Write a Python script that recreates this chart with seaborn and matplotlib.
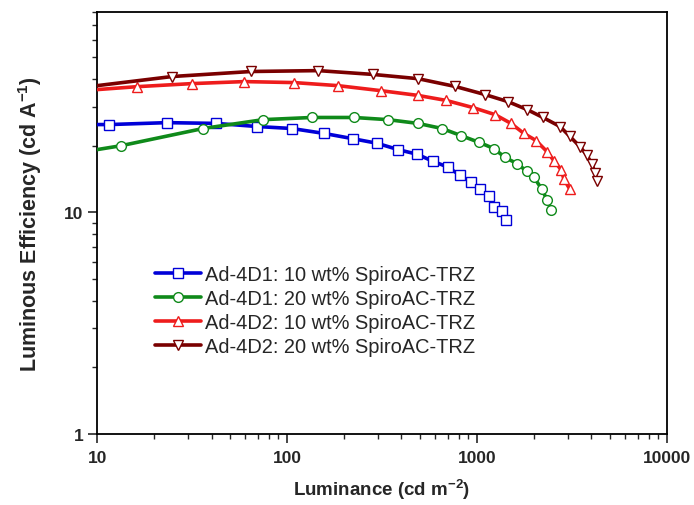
import numpy as np
import pandas as pd
import matplotlib
matplotlib.use("Agg")
import matplotlib.pyplot as plt
import matplotlib.ticker as mticker
import seaborn as sns

# luminance (cd m-2) and luminous efficiency (cd A-1), first point is the line start at the axis
blue_L = [10, 11.6, 23.3, 42.3, 69.5, 106, 157, 222, 298, 384, 483, 587, 703, 814, 930, 1037, 1157, 1229, 1355, 1421]
blue_LE = [24.9, 24.9, 25.4, 25.2, 24.4, 23.9, 22.7, 21.5, 20.5, 19.2, 18.3, 17.0, 16.0, 14.7, 13.7, 12.8, 11.8, 10.6, 10.1, 9.2]

green_L = [10, 13.4, 36.1, 74.8, 135, 225, 340, 489, 654, 824, 1025, 1229, 1403, 1625, 1834, 1995, 2198, 2336, 2451]
green_LE = [19.2, 20.0, 23.9, 26.2, 26.8, 26.8, 26.2, 25.2, 23.9, 22.2, 20.7, 19.4, 17.7, 16.6, 15.3, 14.4, 12.7, 11.4, 10.3]

red_L = [10, 16.2, 31.6, 59.4, 109, 185, 312, 489, 687, 953, 1245, 1510, 1766, 2045, 2336, 2541, 2767, 2871, 3085]
red_LE = [35.8, 36.9, 38.1, 38.9, 38.5, 37.3, 35.4, 33.7, 32.0, 29.7, 27.6, 25.2, 22.7, 21.1, 18.8, 17.1, 15.6, 14.1, 12.7]

dred_L = [10, 24.8, 64.7, 146, 284, 489, 766, 1102, 1455, 1834, 2224, 2735, 3085, 3483, 3793, 4027, 4178, 4285]
dred_LE = [37.3, 41.0, 43.2, 43.6, 41.9, 40.1, 37.0, 34.0, 31.6, 29.1, 26.8, 24.4, 22.0, 19.8, 18.1, 16.5, 15.1, 13.9]

labels = ["Ad-4D1: 10 wt% SpiroAC-TRZ", "Ad-4D1: 20 wt% SpiroAC-TRZ",
          "Ad-4D2: 10 wt% SpiroAC-TRZ", "Ad-4D2: 20 wt% SpiroAC-TRZ"]

series = [
    (blue_L, blue_LE, "#0000d8", "s"),
    (green_L, green_LE, "#0f8a1a", "o"),
    (red_L, red_LE, "#ee1c1c", "^"),
    (dred_L, dred_LE, "#7a0000", "v"),
]

sns.set_style("ticks")
plt.rcParams["font.family"] = ["Liberation Sans", "DejaVu Sans"]

fig = plt.figure(figsize=(6.94, 5.06), dpi=100)
ax = fig.add_axes([0.140, 0.140, 0.821, 0.834])

for (L, LE, col, mk), lab in zip(series, labels):
    df = pd.DataFrame({"L": L, "LE": LE})
    sns.lineplot(data=df, x="L", y="LE", ax=ax, color=col, lw=2.6,
                 marker=mk, ms=7, mfc="white", mec=col, mew=1.0,
                 markevery=slice(1, None), label=lab, zorder=3)

ax.set_xscale("log")
ax.set_yscale("log")
ax.set_xlim(10, 10000)
ax.set_ylim(1, 80)

ax.xaxis.set_major_locator(mticker.LogLocator(base=10))
ax.xaxis.set_minor_locator(mticker.LogLocator(base=10, subs=np.arange(2, 10)))
ax.xaxis.set_major_formatter(mticker.FuncFormatter(lambda v, p: f"{v:g}"))
ax.xaxis.set_minor_formatter(mticker.NullFormatter())
ax.yaxis.set_major_locator(mticker.LogLocator(base=10))
ax.yaxis.set_minor_locator(mticker.LogLocator(base=10, subs=np.arange(2, 10)))
ax.yaxis.set_major_formatter(mticker.FuncFormatter(lambda v, p: f"{v:g}"))
ax.yaxis.set_minor_formatter(mticker.NullFormatter())

ax.tick_params(which="major", direction="out", length=6.5, width=1.2, labelsize=12.5)
ax.tick_params(axis="x", which="major", pad=5)
ax.tick_params(axis="y", which="major", pad=3.5)
ax.tick_params(which="minor", direction="out", length=3.6, width=1.0)
for lab in ax.get_xticklabels() + ax.get_yticklabels():
    lab.set_fontweight("bold")

for s in ax.spines.values():
    s.set_visible(True)
    s.set_linewidth(1.3)
    s.set_color("black")

ax.set_xlabel(r"Luminance (cd m$^{\mathregular{-2}}$)", fontsize=13.5, fontweight="bold", labelpad=8)
ax.set_ylabel(r"Luminous Efficiency (cd A$^{\mathregular{-1}}$)", fontsize=15.5, fontweight="bold", labelpad=14)

leg = ax.legend(loc="upper left", bbox_to_anchor=(0.088, 0.42), frameon=False,
                fontsize=14.4, handlelength=2.3, handletextpad=0.2,
                labelspacing=0.25, borderaxespad=0)

fig.savefig("out.png", dpi=100)
